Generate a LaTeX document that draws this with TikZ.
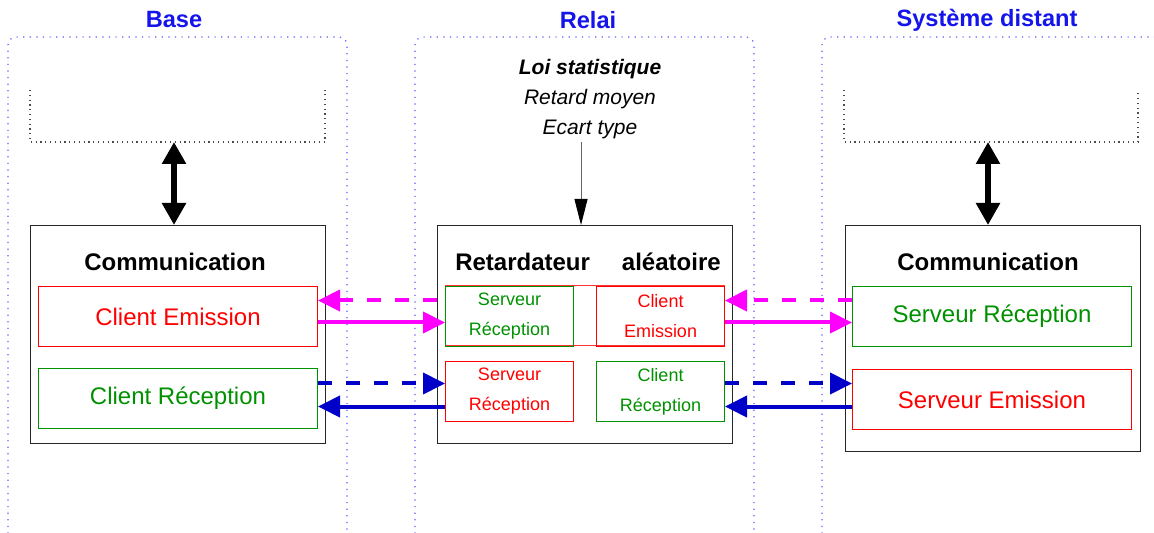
\documentclass[tikz,border=0pt]{standalone}
\usepackage{fontspec}
\setmainfont{Liberation Sans}
\usepackage{xcolor}
\usetikzlibrary{positioning,arrows.meta}
\definecolor{vert}{RGB}{0,145,0}
\definecolor{rouge}{RGB}{255,0,0}
\definecolor{bleu}{RGB}{0,0,200}
\definecolor{titre}{RGB}{20,20,235}
\definecolor{rose}{RGB}{255,0,255}
\definecolor{pointille}{RGB}{90,90,255}
\tikzset{
  bloc/.style={draw=black!85,line width=0.6pt,anchor=north west,inner sep=0pt,minimum width=147.5pt,minimum height=109pt},
  sousbloc/.style={draw,line width=0.5pt,anchor=north west,inner sep=0pt,minimum width=139.5pt,minimum height=30pt,font=\fontsize{12}{14}\selectfont},
  petit/.style={draw,line width=0.5pt,anchor=north west,inner sep=0pt,minimum width=64pt,minimum height=30pt,align=center,font=\fontsize{9}{15}\selectfont},
  flux/.style={line width=2pt,-{Triangle[length=11pt,width=10.5pt]}},
  tirets/.style={flux,dash pattern=on 7pt off 7pt},
  cadre/.style={pointille,line width=0.6pt,dash pattern=on 0.6pt off 2.7pt,rounded corners=4pt},
  appli/.style={black!70,line width=0.6pt,dash pattern=on 0.6pt off 1.8pt},
}
\begin{document}
\begin{tikzpicture}[x=0.5pt,y=-0.5pt]
\path[use as bounding box,clip] (0,0) rectangle (1154,533);
% zones
\foreach \i/\xa/\xb/\nom/\xt in {1/8/347/Base/174, 2/415/754/Relai/588, 3/822/1200/Système distant/987}
{
  \draw[cadre] (\xa,560) -- (\xa,37) -- (\xb,37) -- (\xb,560);
  \node[font=\bfseries\fontsize{11.8}{13}\selectfont,text=titre] (zone\i) at (\xt,20) {\nom};
}
% applications (dotted)
\draw[appli] (30,90) -- (30,142) -- (325,142) -- (325,90);
\draw[appli] (844,90) -- (844,142) -- (1138,142) -- (1138,90);
\coordinate (app1) at (174,142);
\coordinate (app2) at (988,142);
% communication blocks
\node[bloc] (com1) at (30,225) {};
\node[bloc] (ret) at (437,225) {};
\node[bloc,minimum height=113pt] (com2) at (845,225) {};
\node[font=\bfseries\fontsize{12}{14}\selectfont] (tc1) at (175,262) {Communication};
\node[font=\bfseries\fontsize{12}{14}\selectfont] (tret) at (588,262) {Retardateur\hspace{16pt}aléatoire};
\node[font=\bfseries\fontsize{12}{14}\selectfont] (tc2) at (988,262) {Communication};
% inner boxes
\node[sousbloc,draw=rouge,text=rouge] (ce) at (38,286) {Client Emission};
\node[sousbloc,draw=vert,text=vert] (cr) at (38,368) {Client Réception};
\node[sousbloc,draw=vert,text=vert] (sr2) at (852,286) {Serveur Réception};
\node[sousbloc,draw=rouge,text=rouge] (se2) at (852,369) {Serveur Emission};
\draw[rouge!80,line width=0.5pt] (445,286) rectangle (724,346);
\node[petit,draw=vert,text=vert] (sr) at (445,286) {Serveur\\Réception};
\node[petit,draw=rouge,text=rouge] (ce2) at (596,286) {Client\\Emission};
\node[petit,draw=rouge,text=rouge] (srb) at (445,361) {Serveur\\Réception};
\node[petit,draw=vert,text=vert] (cr2) at (596,361) {Client\\Réception};
% statistics
\node[align=center,font=\fontsize{10.5}{15}\selectfont] (loi) at (590,99) {\textbf{\textit{Loi statistique}}\\\textit{Retard moyen}\\\textit{Ecart type}};
\coordinate (stat) at (581,142);
\draw[black!60,line width=0.5pt,-{Triangle[length=13pt,width=6.5pt,black]}] (stat) -- (stat |- ret.north);
% links
\draw[line width=3.3pt,{Triangle[length=11pt,width=11.5pt]}-{Triangle[length=11pt,width=11.5pt]}] (app1) -- (app1 |- com1.north);
\draw[line width=3.3pt,{Triangle[length=11pt,width=11.5pt]}-{Triangle[length=11pt,width=11.5pt]}] (app2) -- (app2 |- com2.north);
\draw[tirets,rose] ([yshift=8pt]ret.west |- sr.west) -- ([yshift=8pt]ce.east);
\draw[flux,rose] ([yshift=-3pt]ce.east) -- ([yshift=-3pt]sr.west);
\draw[tirets,bleu] ([yshift=7.5pt]cr.east) -- ([yshift=7.5pt]cr.east -| srb.west);
\draw[flux,bleu] ([yshift=-4pt]cr.east -| srb.west) -- ([yshift=-4pt]cr.east);
\draw[tirets,rose] ([yshift=8pt]sr2.west) -- ([yshift=8pt]ce2.east);
\draw[flux,rose] ([yshift=-3pt]ce2.east) -- ([yshift=-3pt]sr2.west);
\draw[tirets,bleu] ([yshift=7.5pt]cr.east -| cr2.east) -- ([yshift=7.5pt]cr.east -| se2.west);
\draw[flux,bleu] ([yshift=-4pt]cr.east -| se2.west) -- ([yshift=-4pt]cr.east -| cr2.east);
\end{tikzpicture}
\end{document}
